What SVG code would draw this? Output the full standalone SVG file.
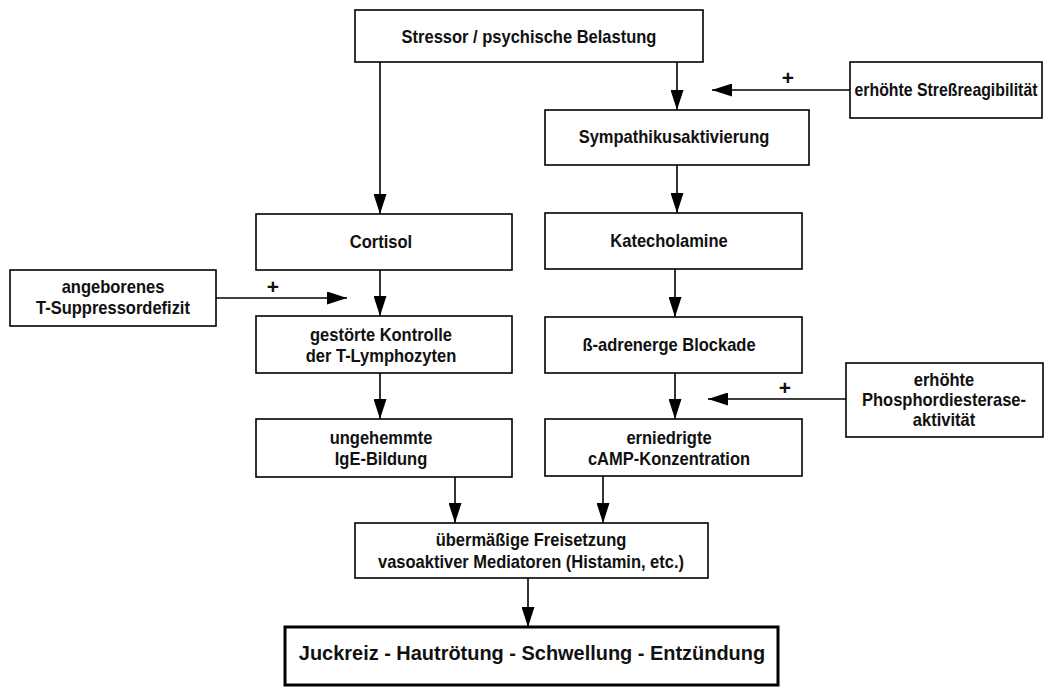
<svg xmlns="http://www.w3.org/2000/svg" width="1050" height="688" viewBox="0 0 1050 688">
<style>
.box{fill:#fff;stroke:#000;stroke-width:1.6}
.thick{fill:#fff;stroke:#000;stroke-width:3}
.t{font-family:"Liberation Sans",Arial,sans-serif;font-weight:bold;font-size:18px;text-anchor:middle;fill:#111}
.big{font-size:21px}
.plus{font-family:"Liberation Sans",Arial,sans-serif;font-weight:bold;font-size:21px;text-anchor:middle;fill:#111}
.c{stroke:#000;stroke-width:1.6;fill:none;marker-end:url(#ah)}
</style>
<defs>
<marker id="ah" viewBox="0 0 20 13" refX="20" refY="6.5" markerWidth="20" markerHeight="13" markerUnits="userSpaceOnUse" orient="auto">
<path d="M0,0 L20,6.5 L0,13 Z" fill="#000"/>
</marker>
</defs>
<rect width="1050" height="688" fill="#fff"/>
<g id="connectors">
<line class="c" x1="380" y1="62" x2="380" y2="214"/>
<line class="c" x1="677" y1="62" x2="677" y2="110"/>
<line class="c" x1="850" y1="90" x2="712" y2="90"/>
<line class="c" x1="677" y1="165" x2="677" y2="213"/>
<line class="c" x1="380" y1="270" x2="380" y2="316"/>
<line class="c" x1="216" y1="298" x2="347" y2="298"/>
<line class="c" x1="675" y1="269" x2="675" y2="317"/>
<line class="c" x1="380" y1="373" x2="380" y2="419"/>
<line class="c" x1="675" y1="373" x2="675" y2="419"/>
<line class="c" x1="846" y1="399" x2="708" y2="399"/>
<line class="c" x1="455" y1="477" x2="455" y2="523"/>
<line class="c" x1="603" y1="476" x2="603" y2="523"/>
<line class="c" x1="528" y1="578" x2="528" y2="627"/>
<text class="plus" x="788" y="85">+</text>
<text class="plus" x="273" y="294">+</text>
<text class="plus" x="785" y="395">+</text>
</g>
<g id="stressor">
<rect class="box" x="355" y="10" width="348" height="52"/>
<text class="t" transform="matrix(0.917,0,0,1,529,0)" x="0" y="43">Stressor / psychische Belastung</text>
</g>
<g id="stressreagibilitaet">
<rect class="box" x="850" y="62" width="192" height="56"/>
<text class="t" transform="matrix(0.88,0,0,1,946,0)" x="0" y="96">erhöhte Streßreagibilität</text>
</g>
<g id="sympathikus">
<rect class="box" x="545" y="110" width="264" height="55"/>
<text class="t" transform="matrix(0.917,0,0,1,674,0)" x="0" y="143">Sympathikusaktivierung</text>
</g>
<g id="cortisol">
<rect class="box" x="256" y="214" width="256" height="56"/>
<text class="t" transform="matrix(0.917,0,0,1,381,0)" x="0" y="248">Cortisol</text>
</g>
<g id="katecholamine">
<rect class="box" x="545" y="213" width="257" height="56"/>
<text class="t" transform="matrix(0.917,0,0,1,669,0)" x="0" y="247">Katecholamine</text>
</g>
<g id="suppressordefizit">
<rect class="box" x="10" y="270" width="206" height="56"/>
<text class="t" transform="matrix(0.917,0,0,1,113,0)" x="0" y="293">angeborenes</text>
<text class="t" transform="matrix(0.917,0,0,1,113,0)" x="0" y="314">T-Suppressordefizit</text>
</g>
<g id="kontrolle">
<rect class="box" x="256" y="316" width="256" height="57"/>
<text class="t" transform="matrix(0.917,0,0,1,381,0)" x="0" y="341">gestörte Kontrolle</text>
<text class="t" transform="matrix(0.917,0,0,1,381,0)" x="0" y="362">der T-Lymphozyten</text>
</g>
<g id="blockade">
<rect class="box" x="545" y="317" width="257" height="56"/>
<text class="t" transform="matrix(0.917,0,0,1,669,0)" x="0" y="351">ß-adrenerge Blockade</text>
</g>
<g id="phosphodiesterase">
<rect class="box" x="846" y="363" width="197" height="74"/>
<text class="t" transform="matrix(0.917,0,0,1,944,0)" x="0" y="386">erhöhte</text>
<text class="t" transform="matrix(0.917,0,0,1,944,0)" x="0" y="406">Phosphordiesterase-</text>
<text class="t" transform="matrix(0.917,0,0,1,944,0)" x="0" y="426">aktivität</text>
</g>
<g id="ige">
<rect class="box" x="256" y="419" width="256" height="58"/>
<text class="t" transform="matrix(0.917,0,0,1,381,0)" x="0" y="444">ungehemmte</text>
<text class="t" transform="matrix(0.917,0,0,1,381,0)" x="0" y="465">IgE-Bildung</text>
</g>
<g id="camp">
<rect class="box" x="545" y="419" width="257" height="57"/>
<text class="t" transform="matrix(0.917,0,0,1,669,0)" x="0" y="444">erniedrigte</text>
<text class="t" transform="matrix(0.917,0,0,1,669,0)" x="0" y="465">cAMP-Konzentration</text>
</g>
<g id="mediatoren">
<rect class="box" x="355" y="523" width="353" height="55"/>
<text class="t" transform="matrix(0.917,0,0,1,531,0)" x="0" y="546">übermäßige Freisetzung</text>
<text class="t" transform="matrix(0.917,0,0,1,531,0)" x="0" y="568">vasoaktiver Mediatoren (Histamin, etc.)</text>
</g>
<g id="symptome">
<rect class="thick" x="285" y="627" width="493" height="58"/>
<text class="t big" transform="matrix(0.95,0,0,1,532,0)" x="0" y="660">Juckreiz - Hautrötung - Schwellung - Entzündung</text>
</g>
</svg>
